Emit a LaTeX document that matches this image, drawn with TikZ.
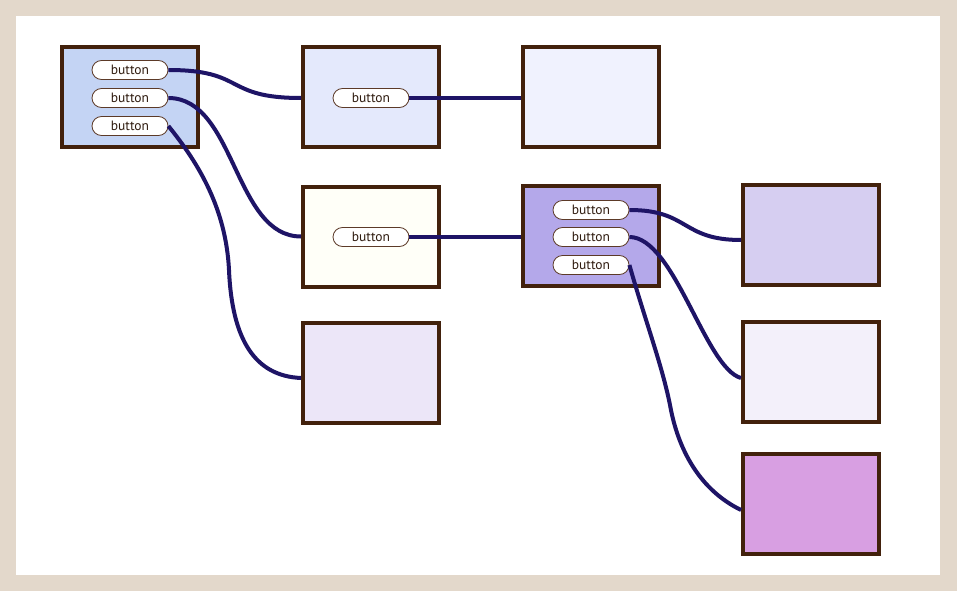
\documentclass[tikz,border=0pt]{standalone}
\usepackage{fontspec}
\setsansfont{PT Sans}
\usepackage{xcolor}
\usepackage{tikz}
\usetikzlibrary{calc}
\definecolor{framebeige}{RGB}{227,216,203}
\definecolor{panelbrown}{RGB}{66,33,12}
\definecolor{pillbrown}{RGB}{92,58,40}
\definecolor{textbrown}{RGB}{46,26,14}
\definecolor{wirenavy}{RGB}{30,20,102}
\definecolor{fillA}{RGB}{196,212,244}
\definecolor{fillB}{RGB}{228,233,252}
\definecolor{fillC}{RGB}{240,242,254}
\definecolor{fillD}{RGB}{255,255,248}
\definecolor{fillE}{RGB}{180,168,234}
\definecolor{fillF}{RGB}{214,206,241}
\definecolor{fillG}{RGB}{236,230,248}
\definecolor{fillH}{RGB}{243,240,250}
\definecolor{fillI}{RGB}{216,159,226}

\begin{document}
\begin{tikzpicture}[x=1pt,y=-1pt,
    panel/.style={draw=panelbrown, line width=4pt, minimum width=136pt, minimum height=100pt, inner sep=0pt},
    pill/.style={draw=pillbrown, fill=white, line width=0.8pt, rounded corners=9.5pt, minimum width=76pt, minimum height=19pt, inner sep=0pt, text=textbrown, font=\sffamily\fontsize{13.5}{13.5}\selectfont},
    wire/.style={draw=wirenavy, line width=4pt}]

    % Frame
    \fill[framebeige] (0,0) rectangle (957,591);
    \fill[white] (16,16) rectangle (940,575);

    % Panels
    \node[panel, fill=fillA] (A) at (130,97) {};
    \node[panel, fill=fillB] (B) at (371,97) {};
    \node[panel, fill=fillC] (C) at (591,97) {};
    \node[panel, fill=fillD] (D) at (371,236.5) {};
    \node[panel, fill=fillE] (E) at (591,235.5) {};
    \node[panel, fill=fillF] (F) at (811,235) {};
    \node[panel, fill=fillG] (G) at (371,373) {};
    \node[panel, fill=fillH] (H) at (811,371.5) {};
    \node[panel, fill=fillI] (I) at (811,504) {};

    % Buttons
    \node[pill] (a1) at (130,70) {button};
    \node[pill] (a2) at (130,98) {button};
    \node[pill] (a3) at (130,126) {button};
    \node[pill] (b1) at (371,98) {button};
    \node[pill] (d1) at (371,237) {button};
    \node[pill] (e1) at (591,210) {button};
    \node[pill] (e2) at (591,237) {button};
    \node[pill] (e3) at (591,265) {button};

    % Wires
    \draw[wire] (a1.east) .. controls +(78,0) and +(-78,0) .. ([yshift=-1pt]B.west);
    \draw[wire] (a2.east) .. controls +(67,0) and +(-67,0) .. (D.west);
    \draw[wire] (a3.east) .. controls (200,165) and (226,210) .. (229,270)
        .. controls (232,340) and (255,376) .. ([yshift=-5pt]G.west);
    \draw[wire] (b1.east) -- (b1.east -| C.west);
    \draw[wire] (d1.east) -- (d1.east -| E.west);
    \draw[wire] (e1.east) .. controls +(60,0) and +(-60,0) .. ([yshift=-5pt]F.west);
    \draw[wire] (e2.east) .. controls +(45,0) and +(-36,-10) .. ([yshift=-6.5pt]H.west);
    \draw[wire] (e3.east) .. controls (645,320) and (662,365) .. (670,405)
        .. controls (678,450) and (700,490) .. ([yshift=-6pt]I.west);
\end{tikzpicture}
\end{document}
